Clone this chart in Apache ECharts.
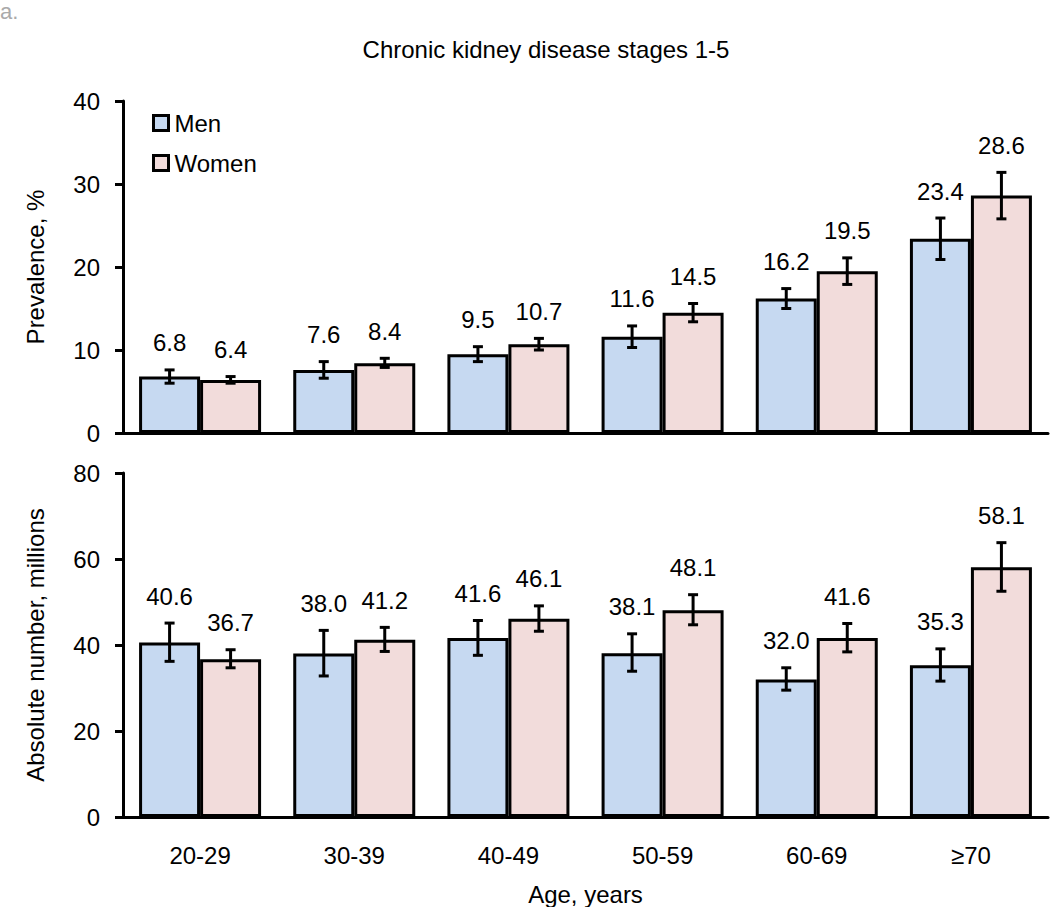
<!DOCTYPE html>
<html>
<head>
<meta charset="utf-8">
<script src="https://cdn.jsdelivr.net/npm/echarts@6/dist/echarts.min.js"></script>
<style>html,body{margin:0;padding:0;background:#fff;}#chart{width:1050px;height:907px;}</style>
</head>
<body>
<div id="chart"></div>
<script>
const categories = ['20-29', '30-39', '40-49', '50-59', '60-69', '≥70'];
const prevMen = [6.8, 7.6, 9.5, 11.6, 16.2, 23.4];
const prevMenLow = [6.0, 6.6, 8.6, 10.3, 15.0, 20.9];
const prevMenHigh = [7.6, 8.6, 10.4, 12.9, 17.4, 25.9];
const prevWomen = [6.4, 8.4, 10.7, 14.5, 19.5, 28.6];
const prevWomenLow = [6.0, 7.9, 10.0, 13.4, 17.9, 25.8];
const prevWomenHigh = [6.8, 9.0, 11.4, 15.6, 21.1, 31.4];
const absMen = [40.6, 38.0, 41.6, 38.1, 32.0, 35.3];
const absMenLow = [36.2, 32.8, 37.6, 33.9, 29.5, 31.6];
const absMenHigh = [45.1, 43.4, 45.7, 42.6, 34.7, 39.1];
const absWomen = [36.7, 41.2, 46.1, 48.1, 41.6, 58.1];
const absWomenLow = [34.7, 38.5, 43.2, 44.7, 38.4, 52.5];
const absWomenHigh = [38.9, 44.1, 49.1, 51.7, 45.0, 63.8];
const prevTicks = {min: 0, max: 40, interval: 10};
const absTicks = {min: 0, max: 80, interval: 20};

const FONT = 'Liberation Sans, Arial, sans-serif';
const FS = 24;
const BAR_W = 61;
const MEN_COLOR = '#C6D9F1';
const WOMEN_COLOR = '#F2DCDB';

function errData(vals, lows, highs) {
  return vals.map((v, i) => [i, lows[i], highs[i], v]);
}
function errRender(offset) {
  return function (params, api) {
    const i = api.value(0), lo = api.value(1), hi = api.value(2), v = api.value(3);
    const pHi = api.coord([i, hi]);
    const pLo = api.coord([i, lo]);
    const x = pHi[0] + offset;
    const st = {stroke: '#000', lineWidth: 3};
    return {
      type: 'group',
      children: [
        {type: 'line', shape: {x1: x, y1: pHi[1], x2: x, y2: pLo[1]}, style: st},
        {type: 'line', shape: {x1: x - 5, y1: pHi[1], x2: x + 5, y2: pHi[1]}, style: st},
        {type: 'line', shape: {x1: x - 5, y1: pLo[1], x2: x + 5, y2: pLo[1]}, style: st},
        {type: 'text', x: x, y: pHi[1] - 27, style: {text: v.toFixed(1), fill: '#000', font: FS + 'px ' + FONT, textAlign: 'center', textVerticalAlign: 'middle'}}
      ]
    };
  };
}

const barStyle = (c) => ({color: c, borderColor: '#000', borderWidth: 3});
const axisLineStyle = {show: true, lineStyle: {color: '#000', width: 3}};

const chart = echarts.init(document.getElementById('chart'), null, {renderer: 'svg'});
chart.setOption({
  animation: false,
  backgroundColor: '#fff',
  textStyle: {fontFamily: FONT},
  title: {
    text: 'Chronic kidney disease stages 1-5',
    left: 541, top: 32, textAlign: 'center',
    textStyle: {fontFamily: FONT, fontSize: 24, fontWeight: 'normal', color: '#000'}
  },
  graphic: [{
    type: 'text', left: 0, top: 0,
    style: {text: 'a.', fill: '#aaaaaa', font: '22px ' + FONT}
  }],
  legend: {
    orient: 'vertical', left: 147, top: 106, itemWidth: 15, itemHeight: 15, itemGap: 16,
    icon: 'rect',
    data: ['Men', 'Women'],
    itemStyle: {borderColor: '#000', borderWidth: 3},
    textStyle: {fontFamily: FONT, fontSize: FS, color: '#000', lineHeight: 24, padding: [0, 0, 0, 1]}
  },
  grid: [
    {left: 123, right: 2, top: 101, height: 332},
    {left: 123, right: 2, top: 473, height: 344}
  ],
  xAxis: [
    {type: 'category', gridIndex: 0, data: categories, axisLine: axisLineStyle, axisTick: {show: false}, axisLabel: {show: false}},
    {type: 'category', gridIndex: 1, data: categories, axisLine: axisLineStyle, axisTick: {show: false},
      axisLabel: {color: '#000', fontSize: FS, fontFamily: FONT, margin: 26},
      name: 'Age, years', nameLocation: 'middle', nameGap: 65,
      nameTextStyle: {color: '#000', fontSize: FS, fontFamily: FONT}}
  ],
  yAxis: [
    {type: 'value', gridIndex: 0, min: prevTicks.min, max: prevTicks.max, interval: prevTicks.interval,
      axisLine: axisLineStyle, axisTick: {show: true, length: 8, lineStyle: {color: '#000', width: 3}},
      splitLine: {show: false}, axisLabel: {color: '#000', fontSize: FS, fontFamily: FONT, margin: 23},
      name: 'Prevalence, %', nameLocation: 'middle', nameGap: 76,
      nameTextStyle: {color: '#000', fontSize: FS, fontFamily: FONT}},
    {type: 'value', gridIndex: 1, min: absTicks.min, max: absTicks.max, interval: absTicks.interval,
      axisLine: axisLineStyle, axisTick: {show: true, length: 8, lineStyle: {color: '#000', width: 3}},
      splitLine: {show: false}, axisLabel: {color: '#000', fontSize: FS, fontFamily: FONT, margin: 23},
      name: 'Absolute number, millions', nameLocation: 'middle', nameGap: 76,
      nameTextStyle: {color: '#000', fontSize: FS, fontFamily: FONT}}
  ],
  series: [
    {name: 'Men', type: 'bar', xAxisIndex: 0, yAxisIndex: 0, data: prevMen, barWidth: BAR_W, barGap: '0%', itemStyle: barStyle(MEN_COLOR)},
    {name: 'Women', type: 'bar', xAxisIndex: 0, yAxisIndex: 0, data: prevWomen, barWidth: BAR_W, barGap: '0%', itemStyle: barStyle(WOMEN_COLOR)},
    {name: 'Men', type: 'bar', xAxisIndex: 1, yAxisIndex: 1, data: absMen, barWidth: BAR_W, barGap: '0%', itemStyle: barStyle(MEN_COLOR)},
    {name: 'Women', type: 'bar', xAxisIndex: 1, yAxisIndex: 1, data: absWomen, barWidth: BAR_W, barGap: '0%', itemStyle: barStyle(WOMEN_COLOR)},
    {type: 'custom', xAxisIndex: 0, yAxisIndex: 0, z: 5, renderItem: errRender(-BAR_W / 2), encode: {x: 0, y: [1, 2]}, data: errData(prevMen, prevMenLow, prevMenHigh)},
    {type: 'custom', xAxisIndex: 0, yAxisIndex: 0, z: 5, renderItem: errRender(BAR_W / 2), encode: {x: 0, y: [1, 2]}, data: errData(prevWomen, prevWomenLow, prevWomenHigh)},
    {type: 'custom', xAxisIndex: 1, yAxisIndex: 1, z: 5, renderItem: errRender(-BAR_W / 2), encode: {x: 0, y: [1, 2]}, data: errData(absMen, absMenLow, absMenHigh)},
    {type: 'custom', xAxisIndex: 1, yAxisIndex: 1, z: 5, renderItem: errRender(BAR_W / 2), encode: {x: 0, y: [1, 2]}, data: errData(absWomen, absWomenLow, absWomenHigh)}
  ]
});
</script>
</body>
</html>
